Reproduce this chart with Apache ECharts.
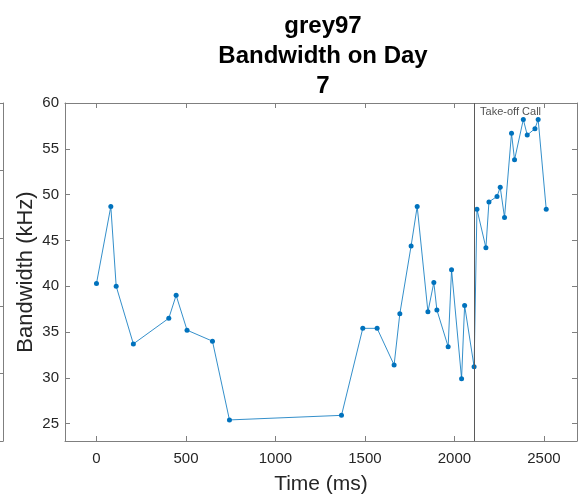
<!DOCTYPE html>
<html>
<head>
<meta charset="utf-8">
<script src="https://cdn.jsdelivr.net/npm/echarts@6/dist/echarts.min.js"></script>
<style>
  html, body { margin: 0; padding: 0; background: #fff; }
  #chart { width: 578px; height: 500px; }
</style>
</head>
<body>
<div id="chart"></div>
<script>
// Call timing (ms) and measured bandwidth (kHz) for grey97, day 7
const timeMs = [0, 80, 110, 206, 404, 445, 506, 648, 743, 1369, 1488, 1568, 1663, 1695, 1758, 1792,
  1852, 1885, 1902, 1965, 1984, 2040, 2057, 2110, 2126, 2176, 2193, 2238, 2256, 2280, 2319, 2336,
  2385, 2407, 2450, 2468, 2513];
const bandwidthKHz = [40.3, 48.7, 40.0, 33.7, 36.5, 39.0, 35.2, 34.0, 25.4, 25.9, 35.4, 35.4, 31.4, 37.0, 44.4, 48.7,
  37.2, 40.4, 37.4, 33.4, 41.8, 29.9, 37.9, 31.2, 48.4, 44.2, 49.2, 49.8, 50.8, 47.5, 56.7, 53.8,
  58.2, 56.5, 57.2, 58.2, 48.4];

// Take-off call marker
const takeoffMs = 2110;
const takeoffLabel = 'Take-off Call';

// Axis ranges and tick labels
const xRange = [-176, 2685];
const yRange = [23.1, 60];
const xTicks = [0, 500, 1000, 1500, 2000, 2500];
const yTicks = [25, 30, 35, 40, 45, 50, 55, 60];

const FONT = '"Liberation Sans", Arial, Helvetica, sans-serif';
const AXIS_COLOR = '#7f7f7f';
const TEXT_COLOR = '#262626';
const LINE_COLOR = '#0072BD';

const points = timeMs.map((t, i) => [t, bandwidthKHz[i]]);

function boxAxis(extra) {
  return Object.assign({
    type: 'value',
    axisLine: { show: true, onZero: false, lineStyle: { color: AXIS_COLOR, width: 1 } },
    axisTick: { show: true, inside: true, length: 5, lineStyle: { color: AXIS_COLOR, width: 1 } },
    splitLine: { show: false },
    axisLabel: { show: false }
  }, extra);
}

const chart = echarts.init(document.getElementById('chart'), null, { renderer: 'canvas' });
chart.setOption({
  animation: false,
  backgroundColor: '#ffffff',
  title: {
    text: 'grey97\nBandwidth on Day\n7',
    left: 323,
    top: 11,
    padding: 0,
    textAlign: 'center',
    textStyle: { fontFamily: FONT, fontSize: 24, fontWeight: 'bold', color: '#000', lineHeight: 30 }
  },
  grid: [
    { left: 65, right: 1, top: 103, bottom: 59, containLabel: false },
    // right edge of the neighbouring panel
    { left: 0, width: 3, top: 103, bottom: 59, show: false }
  ],
  xAxis: [
    boxAxis({
      gridIndex: 0, position: 'bottom', min: xRange[0], max: xRange[1],
      name: 'Time (ms)', nameLocation: 'middle', nameGap: 33, nameMoveOverlap: false,
      nameTextStyle: { fontFamily: FONT, fontSize: 21, color: TEXT_COLOR },
      axisTick: { show: true, inside: true, length: 5, customValues: xTicks, lineStyle: { color: AXIS_COLOR } },
      axisLabel: {
        show: true, customValues: xTicks, margin: 10, fontFamily: FONT, fontSize: 15, color: TEXT_COLOR,
        formatter: v => String(v)
      }
    }),
    boxAxis({
      gridIndex: 0, position: 'top', min: xRange[0], max: xRange[1],
      axisTick: { show: true, inside: true, length: 5, customValues: xTicks, lineStyle: { color: AXIS_COLOR } }
    }),
    boxAxis({ gridIndex: 1, position: 'bottom', min: 0, max: 1, axisTick: { show: false } }),
    boxAxis({ gridIndex: 1, position: 'top', min: 0, max: 1, axisTick: { show: false } })
  ],
  yAxis: [
    boxAxis({
      gridIndex: 0, position: 'left', min: yRange[0], max: yRange[1],
      name: 'Bandwidth (kHz)', nameLocation: 'middle', nameGap: 28, nameMoveOverlap: false,
      nameTextStyle: { fontFamily: FONT, fontSize: 22, color: TEXT_COLOR },
      axisTick: { show: true, inside: true, length: 5, customValues: yTicks, lineStyle: { color: AXIS_COLOR } },
      axisLabel: { show: true, customValues: yTicks, margin: 6, fontFamily: FONT, fontSize: 15, color: TEXT_COLOR }
    }),
    boxAxis({
      gridIndex: 0, position: 'right', min: yRange[0], max: yRange[1],
      axisTick: { show: true, inside: true, length: 5, customValues: yTicks, lineStyle: { color: AXIS_COLOR } }
    }),
    boxAxis({
      gridIndex: 1, position: 'right', min: 0, max: 5, interval: 1,
      axisTick: { show: true, inside: true, length: 5, lineStyle: { color: AXIS_COLOR } }
    })
  ],
  series: [
    {
      name: 'Bandwidth',
      type: 'line',
      xAxisIndex: 0,
      yAxisIndex: 0,
      data: points,
      symbol: 'circle',
      symbolSize: 5,
      showSymbol: true,
      lineStyle: { color: LINE_COLOR, width: 0.8 },
      itemStyle: { color: LINE_COLOR },
      silent: true
    },
    {
      name: takeoffLabel,
      type: 'scatter',
      xAxisIndex: 0,
      yAxisIndex: 0,
      data: [[takeoffMs, yRange[1]]],
      symbolSize: 0,
      silent: true,
      clip: false,
      label: {
        show: true,
        formatter: takeoffLabel,
        position: [6, 9],
        align: 'left',
        verticalAlign: 'middle',
        fontFamily: FONT,
        fontSize: 11,
        color: TEXT_COLOR
      },
      markLine: {
        silent: true,
        symbol: ['none', 'none'],
        label: { show: false },
        lineStyle: { color: '#5a5a5a', width: 1, type: 'solid' },
        data: [{ xAxis: takeoffMs }]
      }
    }
  ]
});
</script>
</body>
</html>
